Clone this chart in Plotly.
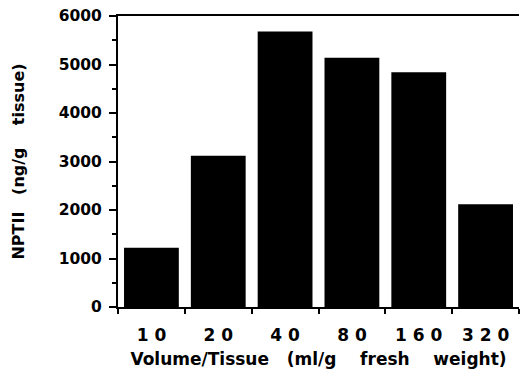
import plotly.graph_objects as go

categories = ["10", "20", "40", "80", "160", "320"]
tick_labels = ["1 0", "2 0", "4 0", "8 0", "1 6 0", "3 2 0"]
nptii = [1220, 3120, 5680, 5140, 4840, 2120]

NB = "\u00a0"
font_family = "DejaVu Sans"

fig = go.Figure(
    go.Bar(
        x=categories,
        y=nptii,
        marker=dict(color="black", line=dict(width=0)),
        width=0.82,
    )
)

fig.update_layout(
    width=520,
    height=369,
    margin=dict(l=118, r=1, t=16, b=62),
    paper_bgcolor="white",
    plot_bgcolor="white",
    showlegend=False,
    font=dict(family=font_family, color="black"),
)

fig.update_xaxes(
    type="category",
    tickmode="array",
    tickvals=categories,
    ticktext=tick_labels,
    tickson="boundaries",
    ticks="outside",
    ticklen=5,
    tickwidth=2,
    tickcolor="black",
    showline=True,
    linewidth=2,
    linecolor="black",
    mirror=True,
    showgrid=False,
    tickfont=dict(family=font_family, size=17, weight="bold"),
    ticklabelstandoff=12,
    title=dict(
        text=f"Volume/Tissue{NB*3}(ml/g{NB*4}fresh{NB*4}weight)",
        font=dict(family=font_family, size=17, weight="bold"),
        standoff=9,
    ),
)

fig.update_yaxes(
    range=[0, 6000],
    tickvals=[0, 1000, 2000, 3000, 4000, 5000, 6000],
    ticks="outside",
    ticklen=7,
    tickwidth=2,
    tickcolor="black",
    minor=dict(dtick=500, ticks="outside", ticklen=4, tickwidth=2, tickcolor="black"),
    showline=True,
    linewidth=2,
    linecolor="black",
    showgrid=False,
    zeroline=False,
    tickfont=dict(family=font_family, size=15.5, weight="bold"),
    ticklabelstandoff=4,
    title=dict(
        text=f"NPTII{NB*3}(ng/g{NB*4}tissue)",
        font=dict(family=font_family, size=16, weight="bold"),
        standoff=30,
    ),
)

fig.write_html("out.html")
